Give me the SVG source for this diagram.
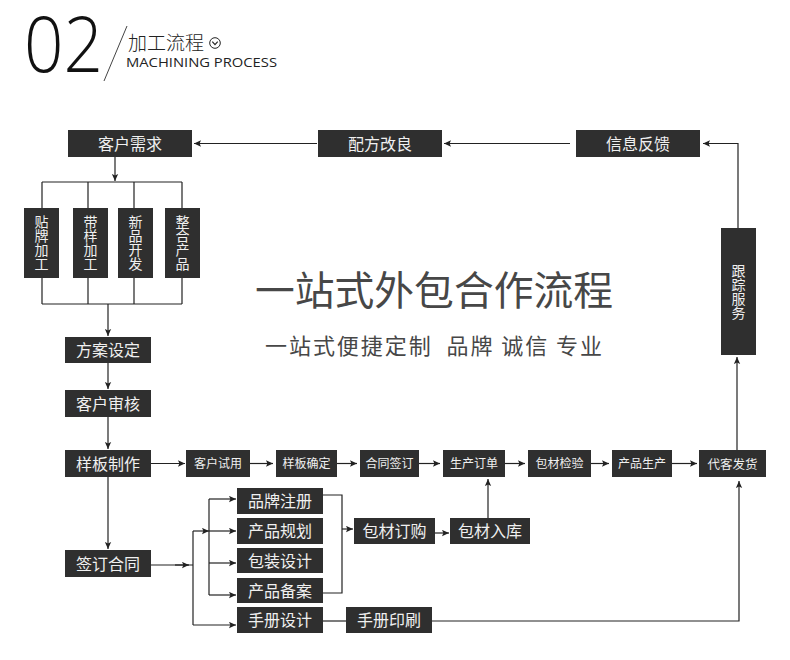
<svg xmlns="http://www.w3.org/2000/svg" width="790" height="660" viewBox="0 0 790 660">
<defs>
<marker id="ah" viewBox="0 0 10 10" refX="10" refY="5" markerWidth="9" markerHeight="7" orient="auto" markerUnits="userSpaceOnUse">
<path d="M0,0.5 L10,5 L0,9.5 L2,5 z" fill="#222"/>
</marker>
<style>
.b{fill:#2f2f2f}
.t{font-family:"Noto Sans CJK SC","Noto Sans",sans-serif;fill:#f0f0f0;text-anchor:middle}
.t16{font-size:16px}
.t12{font-size:12px}
.tv{font-size:14px;writing-mode:vertical-rl;text-anchor:middle;dominant-baseline:central}
.c{fill:none;stroke:#222;stroke-width:1.2}
.a{marker-end:url(#ah)}
</style>
</defs>
<rect width="790" height="660" fill="#fff"/>

<g id="header">
<text x="24" y="72" font-family="Open Sans, Liberation Sans, sans-serif" font-weight="300" font-size="78" fill="#111" textLength="79" lengthAdjust="spacingAndGlyphs">02</text>
<line x1="104" y1="81" x2="127" y2="26" stroke="#444" stroke-width="1"/>
<text x="128" y="50" font-family="Noto Sans CJK SC, sans-serif" font-size="19" font-weight="300" fill="#222">加工流程</text>
<circle cx="215" cy="43" r="5.3" fill="none" stroke="#222" stroke-width="1"/>
<path d="M212.3,41.7 L215,44.6 L217.7,41.7" fill="none" stroke="#222" stroke-width="1.2"/>
<text x="126" y="67" font-family="Open Sans, Liberation Sans, sans-serif" font-size="13.5" fill="#222" textLength="151" lengthAdjust="spacingAndGlyphs">MACHINING PROCESS</text>
</g>

<g id="title">
<text x="255" y="305" font-family="Noto Sans CJK SC, sans-serif" font-size="40" fill="#474747" textLength="358" lengthAdjust="spacingAndGlyphs">一站式外包合作流程</text>
<text x="265" y="354" font-family="Noto Sans CJK SC, sans-serif" font-size="22" fill="#474747" textLength="337" lengthAdjust="spacing" xml:space="preserve">一站式便捷定制  品牌 诚信 专业</text>
</g>

<g id="connectors">
<path class="c a" d="M570,143.5 H444"/>
<path class="c a" d="M317,143.5 H194"/>
<path class="c a" d="M738,228 V143.5 H703"/>
<path class="c a" d="M737,450 V357"/>
<path class="c a" d="M115,157 V181"/>
<path class="c" d="M42,182 H182 M42,182 V208 M88,182 V208 M134,182 V208 M182,182 V208"/>
<path class="c" d="M42,304 H182 M42,278 V304 M88,278 V304 M134,278 V304 M182,278 V304"/>
<path class="c a" d="M108,304 V336"/>
<path class="c a" d="M108,363 V389"/>
<path class="c a" d="M108,417 V449"/>
<path class="c a" d="M108,477 V549"/>
<path class="c a" d="M151,463.5 H185"/>
<path class="c a" d="M250,463.5 H273"/>
<path class="c a" d="M337,463.5 H357"/>
<path class="c a" d="M419,463.5 H440"/>
<path class="c a" d="M505,463.5 H525"/>
<path class="c a" d="M591,463.5 H609"/>
<path class="c a" d="M672,463.5 H697"/>
<path class="c" d="M151,565 H193"/>
<path class="c a" d="M175,565 H189"/>
<path class="c" d="M193,531 V625"/>
<path class="c a" d="M193,531 H209"/>
<path class="c" d="M209,499 V595"/>
<path class="c a" d="M209,499 H236"/>
<path class="c a" d="M209,531 H236"/>
<path class="c a" d="M209,563 H236"/>
<path class="c a" d="M209,595 H236"/>
<path class="c a" d="M193,625 H236"/>
<path class="c" d="M323,495 H342 V593 H323"/>
<path class="c a" d="M342,529 H353"/>
<path class="c a" d="M435,533 H449"/>
<path class="c a" d="M488,518 V479"/>
<path class="c" d="M323,621 H346"/>
<path class="c a" d="M432,621 H739 V481"/>
</g>

<g id="n-khxq"><rect class="b" x="68" y="130" width="124" height="27"/><text class="t t16" x="130" y="149.5">客户需求</text></g>
<g id="n-pfgl"><rect class="b" x="318" y="130" width="124" height="27"/><text class="t t16" x="380" y="149.5">配方改良</text></g>
<g id="n-xxfk"><rect class="b" x="576" y="130" width="124" height="27"/><text class="t t16" x="638" y="149.5">信息反馈</text></g>

<g id="n-tpjg"><rect class="b" x="24" y="208" width="35" height="70"/><text class="t tv" x="41.5" y="243">贴牌加工</text></g>
<g id="n-dyjg"><rect class="b" x="73" y="208" width="35" height="70"/><text class="t tv" x="90.5" y="243">带样加工</text></g>
<g id="n-xpkf"><rect class="b" x="118" y="208" width="35" height="70"/><text class="t tv" x="135.5" y="243">新品开发</text></g>
<g id="n-zhcp"><rect class="b" x="165" y="208" width="35" height="70"/><text class="t tv" x="182.5" y="243">整合产品</text></g>

<g id="n-gzfw"><rect class="b" x="721" y="228" width="35" height="127"/><text class="t tv" x="738.5" y="291.5">跟踪服务</text></g>

<g id="n-fasd"><rect class="b" x="65" y="337" width="86" height="26"/><text class="t t16" x="108" y="356">方案设定</text></g>
<g id="n-khsh"><rect class="b" x="65" y="390" width="86" height="27"/><text class="t t16" x="108" y="409.5">客户审核</text></g>
<g id="n-ybzz"><rect class="b" x="65" y="450" width="86" height="27"/><text class="t t16" x="108" y="469.5">样板制作</text></g>
<g id="n-qdht"><rect class="b" x="65" y="550" width="86" height="27"/><text class="t t16" x="108" y="569.5">签订合同</text></g>

<g id="n-khsy"><rect class="b" x="186" y="450" width="64" height="27"/><text class="t t12" x="218" y="468">客户试用</text></g>
<g id="n-ybqd"><rect class="b" x="276" y="450" width="61" height="27"/><text class="t t12" x="306.5" y="468">样板确定</text></g>
<g id="n-htqd"><rect class="b" x="360" y="450" width="59" height="27"/><text class="t t12" x="389.5" y="468">合同签订</text></g>
<g id="n-scdd"><rect class="b" x="443" y="450" width="62" height="27"/><text class="t t12" x="474" y="468">生产订单</text></g>
<g id="n-bcjy"><rect class="b" x="528" y="450" width="63" height="27"/><text class="t t12" x="559.5" y="468">包材检验</text></g>
<g id="n-cpsc"><rect class="b" x="612" y="450" width="60" height="27"/><text class="t t12" x="642" y="468">产品生产</text></g>
<g id="n-dkfh"><rect class="b" x="699" y="450" width="67" height="27"/><text class="t" font-size="12.5" x="732.5" y="468.5">代客发货</text></g>

<g id="n-ppzc"><rect class="b" x="237" y="488" width="86" height="26"/><text class="t t16" x="280" y="507">品牌注册</text></g>
<g id="n-cpgh"><rect class="b" x="237" y="518" width="86" height="26"/><text class="t t16" x="280" y="537">产品规划</text></g>
<g id="n-bzsj"><rect class="b" x="237" y="548" width="86" height="25"/><text class="t t16" x="280" y="566.5">包装设计</text></g>
<g id="n-cpba"><rect class="b" x="237" y="578" width="86" height="25"/><text class="t t16" x="280" y="596.5">产品备案</text></g>
<g id="n-scsj"><rect class="b" x="237" y="607" width="86" height="26"/><text class="t t16" x="280" y="626">手册设计</text></g>

<g id="n-bcdg"><rect class="b" x="354" y="518" width="81" height="26"/><text class="t t16" x="394.5" y="537">包材订购</text></g>
<g id="n-bcrk"><rect class="b" x="450" y="518" width="80" height="26"/><text class="t t16" x="490" y="537">包材入库</text></g>
<g id="n-scys"><rect class="b" x="346" y="607" width="86" height="26"/><text class="t t16" x="389" y="626">手册印刷</text></g>
</svg>
